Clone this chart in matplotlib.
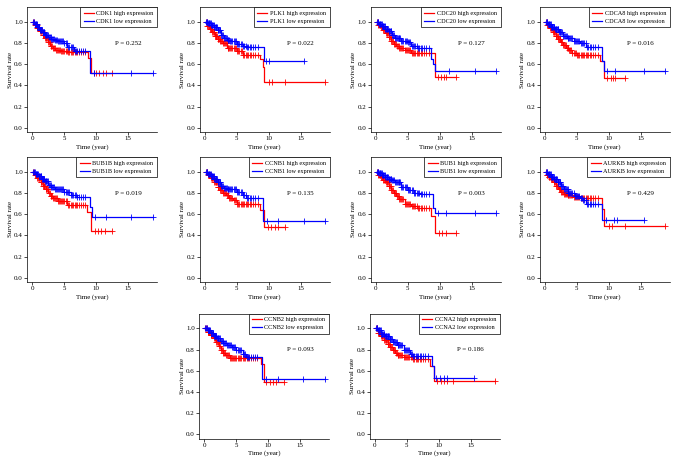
import numpy as np
import matplotlib
matplotlib.use("Agg")
import matplotlib.pyplot as plt

plt.rcParams['font.family'] = ['Liberation Serif', 'DejaVu Serif']

genes = ["CDK1", "PLK1", "CDC20", "CDCA8", "BUB1B", "CCNB1", "BUB1", "AURKB", "CCNB2", "CCNA2"]
p_values = ["0.252", "0.022", "0.127", "0.016", "0.019", "0.135", "0.003", "0.429", "0.093", "0.186"]

# dense censoring in the first years, shared by all curves
early_censor = [0.15, 0.3, 0.4, 0.5, 0.6, 0.7, 0.8, 0.9, 1.0, 1.1, 1.2, 1.3, 1.4, 1.5, 1.6,
                1.7, 1.8, 1.9, 2.0, 2.1, 2.2, 2.3, 2.45, 2.6, 2.75, 2.9, 3.0, 3.1, 3.25, 3.4,
                3.55, 3.7, 3.85, 4.0, 4.15, 4.3, 4.5, 4.7, 4.85, 5.0, 5.2, 5.4, 5.6, 5.8,
                6.0, 6.2, 6.4, 6.6, 6.8, 7.0, 7.3, 7.6, 7.9, 8.3]

# survival step curves: times, survival, late censor times (last one = end of follow-up)
cdk1_high_t = [0, 0.4, 0.8, 1.2, 1.6, 2.0, 2.4, 2.8, 3.2, 3.6, 4.5, 5.5, 8.7, 9.2]
cdk1_high_s = [1.0, 0.97, 0.94, 0.91, 0.88, 0.85, 0.81, 0.77, 0.75, 0.73, 0.72, 0.715, 0.66, 0.52]
cdk1_low_t = [0, 0.4, 0.8, 1.2, 1.6, 2.0, 2.5, 3.0, 3.5, 4.0, 5.0, 5.5, 6.5, 9.05]
cdk1_low_s = [1.0, 0.98, 0.95, 0.92, 0.9, 0.88, 0.86, 0.84, 0.83, 0.82, 0.8, 0.76, 0.725, 0.52]
cdk1_high_tail = [9.6, 10.0, 10.4, 11.0, 11.5, 12.5]
cdk1_low_tail = [9.6, 15.5, 18.8]

plk1_high_t = [0, 0.4, 0.8, 1.2, 1.6, 2.0, 2.4, 2.8, 3.5, 5.0, 6.0, 8.7, 9.1, 9.3]
plk1_high_s = [1.0, 0.96, 0.93, 0.9, 0.87, 0.84, 0.82, 0.8, 0.75, 0.72, 0.69, 0.65, 0.57, 0.43]
plk1_low_t = [0, 0.5, 1.0, 1.5, 2.0, 2.5, 3.0, 3.5, 4.0, 5.0, 6.0, 6.5, 9.2]
plk1_low_s = [1.0, 0.99, 0.97, 0.95, 0.92, 0.88, 0.85, 0.83, 0.82, 0.79, 0.77, 0.76, 0.63]
plk1_high_tail = [10.0, 10.5, 12.5, 18.8]
plk1_low_tail = [9.6, 10.0, 15.5]

cdc20_high_t = [0, 0.4, 0.8, 1.2, 1.6, 2.0, 2.4, 2.8, 3.2, 3.6, 4.5, 5.5, 9.2]
cdc20_high_s = [1.0, 0.97, 0.95, 0.92, 0.89, 0.86, 0.82, 0.79, 0.77, 0.75, 0.73, 0.71, 0.48]
cdc20_low_t = [0, 0.5, 1.0, 1.5, 2.0, 2.5, 3.0, 4.0, 5.0, 5.5, 6.5, 8.6, 9.0, 9.3]
cdc20_low_s = [1.0, 0.98, 0.96, 0.93, 0.91, 0.88, 0.85, 0.82, 0.81, 0.77, 0.75, 0.65, 0.6, 0.54]
cdc20_high_tail = [9.8, 10.2, 10.6, 11.0, 12.5]
cdc20_low_tail = [11.5, 15.5, 18.8]

cdca8_high_t = [0, 0.4, 0.8, 1.3, 1.7, 2.1, 2.5, 2.9, 3.3, 3.8, 4.3, 5.0, 8.7, 9.2]
cdca8_high_s = [1.0, 0.97, 0.94, 0.9, 0.87, 0.84, 0.81, 0.78, 0.75, 0.73, 0.71, 0.69, 0.63, 0.47]
cdca8_low_t = [0, 0.5, 1.0, 1.6, 2.2, 2.8, 3.5, 4.5, 5.5, 6.5, 9.0, 9.3]
cdca8_low_s = [1.0, 0.98, 0.95, 0.93, 0.9, 0.87, 0.85, 0.82, 0.8, 0.76, 0.63, 0.54]
cdca8_high_tail = [9.8, 10.3, 10.7, 11.0, 12.5]
cdca8_low_tail = [9.7, 11.0, 15.5, 18.8]

bub1b_high_t = [0, 0.4, 0.8, 1.3, 1.7, 2.1, 2.5, 2.9, 3.2, 4.0, 5.5, 8.6, 9.2]
bub1b_high_s = [1.0, 0.97, 0.94, 0.9, 0.87, 0.84, 0.8, 0.77, 0.75, 0.72, 0.69, 0.62, 0.44]
bub1b_low_t = [0, 0.5, 1.0, 1.5, 2.0, 2.5, 3.0, 3.5, 5.0, 6.0, 7.0, 9.0, 9.3]
bub1b_low_s = [1.0, 0.98, 0.96, 0.93, 0.91, 0.88, 0.86, 0.84, 0.81, 0.78, 0.76, 0.67, 0.57]
bub1b_high_tail = [9.8, 10.3, 10.8, 11.3, 12.5]
bub1b_low_tail = [9.8, 11.5, 15.5, 18.8]

ccnb1_high_t = [0, 0.5, 1.0, 1.5, 2.0, 2.4, 2.8, 3.3, 3.8, 4.4, 5.0, 8.7, 9.3]
ccnb1_high_s = [1.0, 0.97, 0.94, 0.9, 0.86, 0.83, 0.8, 0.78, 0.75, 0.73, 0.7, 0.64, 0.48]
ccnb1_low_t = [0, 0.5, 1.0, 1.5, 2.0, 2.5, 3.0, 3.5, 5.0, 6.0, 6.5, 9.1]
ccnb1_low_s = [1.0, 0.98, 0.96, 0.93, 0.9, 0.87, 0.85, 0.84, 0.81, 0.78, 0.75, 0.54]
ccnb1_high_tail = [9.9, 10.4, 10.9, 11.4, 12.5]
ccnb1_low_tail = [9.7, 11.5, 15.5, 18.8]

bub1_high_t = [0, 0.4, 0.8, 1.2, 1.6, 2.0, 2.4, 2.8, 3.2, 3.6, 4.5, 5.5, 6.5, 8.6, 9.2]
bub1_high_s = [1.0, 0.97, 0.95, 0.92, 0.9, 0.87, 0.83, 0.8, 0.77, 0.74, 0.7, 0.68, 0.66, 0.58, 0.42]
bub1_low_t = [0, 0.5, 1.0, 1.5, 2.0, 2.5, 3.0, 4.0, 5.0, 6.0, 7.0, 9.0, 9.3]
bub1_low_s = [1.0, 0.99, 0.97, 0.95, 0.93, 0.92, 0.9, 0.86, 0.83, 0.8, 0.79, 0.66, 0.61]
bub1_high_tail = [9.9, 10.4, 10.9, 12.5]
bub1_low_tail = [9.7, 11.0, 15.5, 18.8]

aurkb_high_t = [0, 0.3, 0.6, 1.0, 1.4, 1.8, 2.2, 2.6, 3.0, 3.5, 4.5, 5.5, 9.0, 9.3]
aurkb_high_s = [1.0, 0.97, 0.95, 0.93, 0.9, 0.87, 0.84, 0.81, 0.79, 0.78, 0.76, 0.75, 0.65, 0.49]
aurkb_low_t = [0, 0.5, 1.0, 1.5, 2.0, 2.5, 3.0, 3.7, 4.7, 5.5, 6.0, 6.5, 9.0]
aurkb_low_s = [1.0, 0.98, 0.95, 0.93, 0.9, 0.87, 0.84, 0.8, 0.77, 0.75, 0.73, 0.7, 0.55]
aurkb_high_tail = [10.0, 10.5, 12.5, 18.8]
aurkb_low_tail = [9.6, 10.8, 11.3, 15.5]

ccnb2_high_t = [0, 0.5, 1.0, 1.5, 1.9, 2.3, 2.6, 3.0, 3.3, 4.0, 8.8, 9.3]
ccnb2_high_s = [1.0, 0.97, 0.94, 0.91, 0.87, 0.83, 0.8, 0.77, 0.75, 0.72, 0.66, 0.49]
ccnb2_low_t = [0, 0.5, 1.0, 1.5, 2.0, 2.5, 3.0, 3.5, 4.3, 5.0, 6.0, 6.5, 9.0]
ccnb2_low_s = [1.0, 0.98, 0.96, 0.93, 0.91, 0.88, 0.86, 0.84, 0.82, 0.8, 0.76, 0.73, 0.52]
ccnb2_high_tail = [9.7, 10.2, 10.7, 11.2, 12.5]
ccnb2_low_tail = [9.6, 11.5, 15.5, 18.8]

ccna2_high_t = [0, 0.5, 1.0, 1.5, 2.0, 2.4, 2.8, 3.2, 3.5, 4.5, 6.0, 8.6, 9.3]
ccna2_high_s = [1.0, 0.96, 0.93, 0.89, 0.85, 0.82, 0.8, 0.77, 0.75, 0.73, 0.71, 0.64, 0.5]
ccna2_low_t = [0, 0.5, 1.0, 1.6, 2.3, 2.9, 3.5, 4.5, 5.5, 6.0, 9.0, 9.3]
ccna2_low_s = [1.0, 0.98, 0.95, 0.93, 0.9, 0.87, 0.84, 0.8, 0.76, 0.74, 0.64, 0.53]
ccna2_high_tail = [9.8, 10.3, 10.8, 11.3, 12.3, 18.8]
ccna2_low_tail = [9.6, 10.2, 10.8, 11.3, 15.5]

high_curves = [(cdk1_high_t, cdk1_high_s, cdk1_high_tail), (plk1_high_t, plk1_high_s, plk1_high_tail),
               (cdc20_high_t, cdc20_high_s, cdc20_high_tail), (cdca8_high_t, cdca8_high_s, cdca8_high_tail),
               (bub1b_high_t, bub1b_high_s, bub1b_high_tail), (ccnb1_high_t, ccnb1_high_s, ccnb1_high_tail),
               (bub1_high_t, bub1_high_s, bub1_high_tail), (aurkb_high_t, aurkb_high_s, aurkb_high_tail),
               (ccnb2_high_t, ccnb2_high_s, ccnb2_high_tail), (ccna2_high_t, ccna2_high_s, ccna2_high_tail)]
low_curves = [(cdk1_low_t, cdk1_low_s, cdk1_low_tail), (plk1_low_t, plk1_low_s, plk1_low_tail),
              (cdc20_low_t, cdc20_low_s, cdc20_low_tail), (cdca8_low_t, cdca8_low_s, cdca8_low_tail),
              (bub1b_low_t, bub1b_low_s, bub1b_low_tail), (ccnb1_low_t, ccnb1_low_s, ccnb1_low_tail),
              (bub1_low_t, bub1_low_s, bub1_low_tail), (aurkb_low_t, aurkb_low_s, aurkb_low_tail),
              (ccnb2_low_t, ccnb2_low_s, ccnb2_low_tail), (ccna2_low_t, ccna2_low_s, ccna2_low_tail)]

# panel top-left corners in pixels
panel_lefts = [27, 199.5, 370.5, 539.5, 27, 199.5, 370.5, 539.5, 199, 369.5]
panel_tops = [7, 7, 7, 7, 157, 157, 157, 157, 313.5, 313.5]
W, H = 685, 471
aw, ah = 130, 125


def km_step(ax, t, s, tail, color, label):
    end = tail[-1]
    tt = list(t) + [end]
    ss = list(s) + [s[-1]]
    ax.step(tt, ss, where='post', color=color, lw=0.9, label=label)
    cens = np.array([c for c in early_censor if c < t[-1] - 0.3] + list(tail))
    idx = np.searchsorted(np.array(t), cens, side='right') - 1
    ax.plot(cens, np.array(s)[idx], '+', color=color, ms=4, mew=0.6)


fig = plt.figure(figsize=(W / 100, H / 100), dpi=100)

for i, gene in enumerate(genes):
    l, tp = panel_lefts[i], panel_tops[i]
    ax = fig.add_axes([l / W, 1 - (tp + ah) / H, aw / W, ah / H])
    km_step(ax, *high_curves[i], color='#ff0000', label=f"{gene} high expression")
    km_step(ax, *low_curves[i], color='#0000ff', label=f"{gene} low expression")
    ax.set_xlim(-0.83, 19.5)
    ax.set_ylim(-0.04, 1.14)
    ax.set_xticks([0, 5, 10, 15])
    ax.set_yticks([0, 0.2, 0.4, 0.6, 0.8, 1.0])
    ax.set_yticklabels([f"{v:.1f}" for v in [0, 0.2, 0.4, 0.6, 0.8, 1.0]])
    ax.tick_params(labelsize=5, length=2, width=0.5, pad=1)
    ax.spines['right'].set_visible(False)
    for sp in ax.spines.values():
        sp.set_linewidth(0.5)
    ax.set_xlabel("Time (year)", fontsize=5, labelpad=2)
    ax.set_ylabel("Survival rate", fontsize=5, labelpad=1)
    ax.text(15, 0.8, f"P = {p_values[i]}", ha='center', va='center', fontsize=5)
    leg = ax.legend(loc='upper right', bbox_to_anchor=(1, 1), borderaxespad=0, fontsize=4.5,
                    fancybox=False, edgecolor='black', handlelength=1.6, framealpha=1,
                    borderpad=0.55, labelspacing=0.45, handletextpad=0.4)
    leg.get_frame().set_linewidth(0.5)

fig.savefig("out.png", dpi=100)
